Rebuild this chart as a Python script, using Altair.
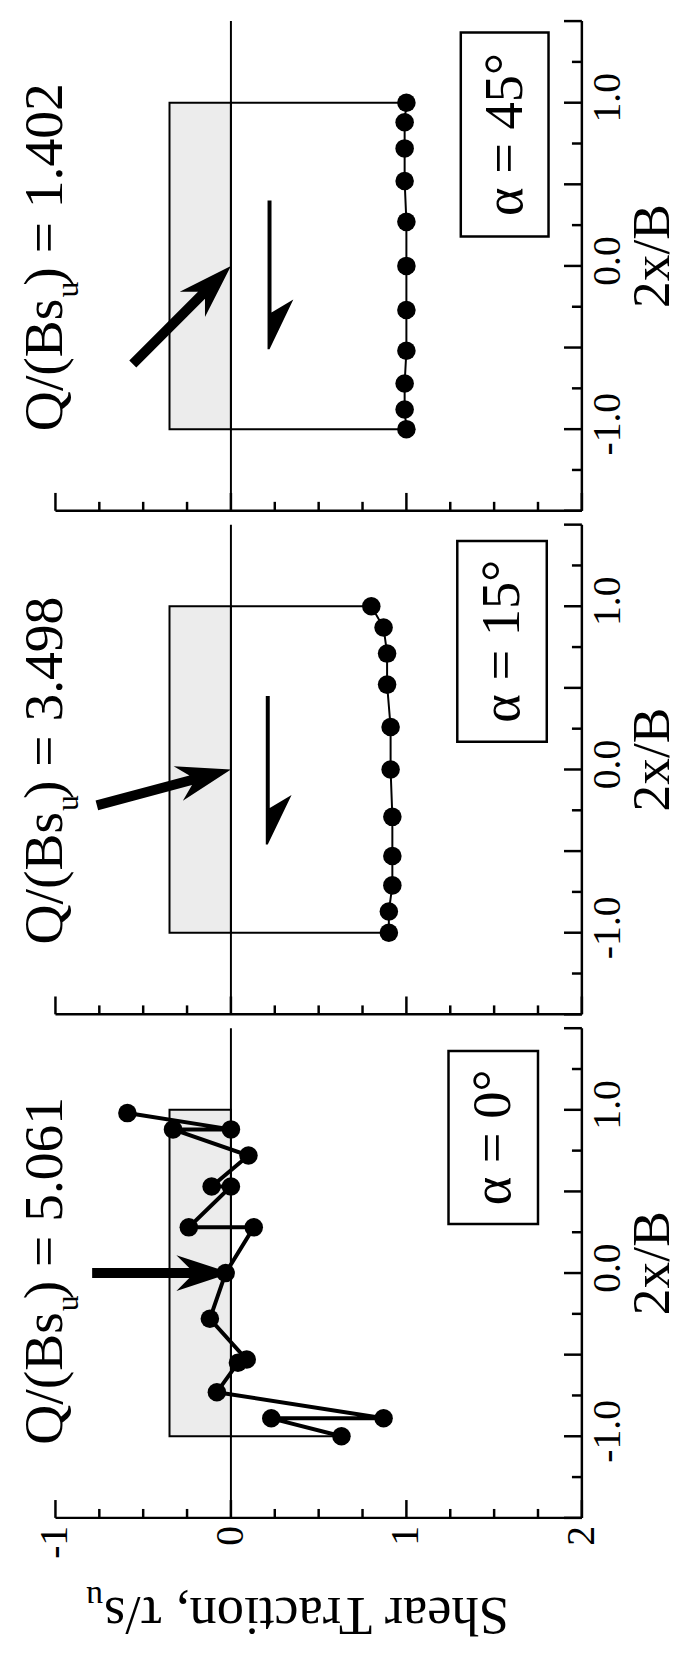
import altair as alt
import pandas as pd

FONT = "Liberation Serif"

# plot-area size of one panel (pixels) and the shared scales
W, H = 587, 494
TAU_DOMAIN = [-1.316, 2.0]
POS_DOMAIN = [-1.5, 1.5]

# ---- data -----------------------------------------------------------------
alphas = [45, 15, 0]
q_values = ["1.402", "3.498", "5.061"]

# shear traction tau/s_u along the footing (2x/B), one polyline per load angle
pos_45 = [1.0, 0.88, 0.72, 0.52, 0.27, 0.0, -0.27, -0.52, -0.72, -0.88, -1.0]
tau_45 = [1.0, 0.99, 0.99, 0.99, 1.0, 1.0, 1.0, 1.0, 0.99, 0.99, 1.0]

pos_15 = [1.0, 0.87, 0.71, 0.52, 0.26, 0.0, -0.29, -0.53, -0.71, -0.87, -1.0]
tau_15 = [0.80, 0.87, 0.89, 0.89, 0.91, 0.91, 0.92, 0.92, 0.92, 0.90, 0.90]

pos_0 = [0.98, 0.88, 0.88, 0.72, 0.53, 0.53, 0.28, 0.28, 0.0, -0.28,
         -0.53, -0.55, -0.73, -0.89, -0.89, -1.0]
tau_0 = [-0.59, 0.0, -0.33, 0.10, -0.11, 0.0, -0.24, 0.13, -0.03, -0.12,
         0.09, 0.04, -0.08, 0.87, 0.23, 0.63]

# footing outline: shaded block and the edges joined to the end tractions
footing_tau = [-0.35, 0.0]
footing_pos = [-1.0, 1.0]
edge_ends = {45: [1.0, 1.0], 15: [0.80, 0.91], 0: [0.0, 0.63]}  # (top, bottom)

# boxes holding the load-angle labels: (tau0, tau1, pos0, pos1)
alpha_boxes = {45: [1.31, 1.81, 0.18, 1.43],
               15: [1.29, 1.80, 0.17, 1.40],
               0: [1.24, 1.75, 0.30, 1.36]}

# anchor of the Q/(Bs_u) label (tau, 2x/B)
q_anchor = {45: [-0.96, -0.20], 15: [-0.96, -0.26], 0: [-0.96, -0.24]}

# direction-of-shear half arrows (tip position), absent for alpha = 0
shear_tip = {45: [0.22, -0.51], 15: [0.21, -0.46]}

line_width = {45: 2, 15: 2, 0: 4}

tau_major = [-1, 0, 1, 2]
tau_minor = [-0.75, -0.5, -0.25, 0.25, 0.5, 0.75, 1.25, 1.5, 1.75]
pos_major = [-1.5, -1.0, -0.5, 0.0, 0.5, 1.0, 1.5]
pos_minor = [-1.25, -0.75, -0.25, 0.25, 0.75, 1.25]
pos_labels = [-1.0, 0.0, 1.0]
pos_label_text = ["-1.0", "0.0", "1.0"]
tau_labels = [-1, 0, 1, 2]
tau_label_text = ["-1", "0", "1", "2"]

series = {45: (pos_45, tau_45), 15: (pos_15, tau_15), 0: (pos_0, tau_0)}

# load arrow (tip at origin, pointing up) and half arrow (tip at origin, pointing down)
LOAD_ARROW = "M0,0 L1.8,5.5 L0.5,4.2 L0.5,14 L-0.5,14 L-0.5,4.2 L-1.8,5.5 Z"
HALF_ARROW = "M0,0 L2.4,-5 L0.2,-3.7 L0.2,-15 L-0.2,-15 L-0.2,0 Z"


def panel(alpha, q_text, last):
    xs = alt.Scale(domain=TAU_DOMAIN, nice=False, zero=False)
    ys = alt.Scale(domain=POS_DOMAIN, nice=False, zero=False)

    def X(f):
        return alt.X(f, type="quantitative", scale=xs, axis=None)

    def Y(f):
        return alt.Y(f, type="quantitative", scale=ys, axis=None)

    foot = pd.DataFrame({"t0": [footing_tau[0]], "t1": [footing_tau[1]],
                         "p0": [footing_pos[0]], "p1": [footing_pos[1]]})
    footing = alt.Chart(foot).mark_rect(fill="#ececec", stroke="black", strokeWidth=2).encode(
        x=X("t0:Q"), x2="t1:Q", y=Y("p0:Q"), y2="p1:Q")

    ends = edge_ends[alpha]
    edges_df = pd.DataFrame({"t0": [footing_tau[1], footing_tau[1]], "t1": ends,
                             "p": [footing_pos[1], footing_pos[0]]})
    edges = alt.Chart(edges_df).mark_rule(color="black", strokeWidth=2).encode(
        x=X("t0:Q"), x2="t1:Q", y=Y("p:Q"))

    zero_df = pd.DataFrame({"t": [0.0], "p0": [POS_DOMAIN[0]], "p1": [POS_DOMAIN[1]]})
    zero = alt.Chart(zero_df).mark_rule(color="black", strokeWidth=2).encode(
        x=X("t:Q"), y=Y("p0:Q"), y2="p1:Q")

    # axis lines: tau axis along the bottom, 2x/B axis on the right
    base_df = pd.DataFrame({"t0": [tau_major[0]], "t1": [tau_major[-1]]})
    baseline = alt.Chart(base_df).mark_rule(color="black", strokeWidth=2.5).encode(
        x=X("t0:Q"), x2="t1:Q", y=alt.value(H))
    side_df = pd.DataFrame({"t": [tau_major[-1]], "p0": [pos_major[0]], "p1": [pos_major[-1]]})
    side = alt.Chart(side_df).mark_rule(color="black", strokeWidth=2.5).encode(
        x=X("t:Q"), y=Y("p0:Q"), y2="p1:Q")

    tmaj = alt.Chart(pd.DataFrame({"v": tau_major})).mark_rule(color="black", strokeWidth=2.5).encode(
        x=X("v:Q"), y=alt.value(H - 18), y2=alt.value(H))
    tmin = alt.Chart(pd.DataFrame({"v": tau_minor})).mark_rule(color="black", strokeWidth=2.5).encode(
        x=X("v:Q"), y=alt.value(H - 9), y2=alt.value(H))
    pmaj = alt.Chart(pd.DataFrame({"v": pos_major})).mark_rule(color="black", strokeWidth=2.5).encode(
        y=Y("v:Q"), x=alt.value(W - 18), x2=alt.value(W))
    pmin = alt.Chart(pd.DataFrame({"v": pos_minor})).mark_rule(color="black", strokeWidth=2.5).encode(
        y=Y("v:Q"), x=alt.value(W - 10), x2=alt.value(W))

    plab_df = pd.DataFrame({"v": pos_labels, "s": pos_label_text})
    plab = alt.Chart(plab_df).mark_text(font=FONT, fontSize=40, angle=270, align="center",
                                        baseline="top", dx=5, color="black").encode(
        y=Y("v:Q"), x=alt.value(W + 6), text="s:N")
    ptitle = alt.Chart(pd.DataFrame({"v": [0.0]})).mark_text(
        font=FONT, fontSize=54, angle=270, align="center", baseline="top", dx=10,
        color="black").encode(y=Y("v:Q"), x=alt.value(W + 45), text=alt.value("2x/B"))

    pos, tau = series[alpha]
    nodes_df = pd.DataFrame({"p": pos, "t": tau, "k": list(range(len(pos)))})
    line = alt.Chart(nodes_df).mark_line(color="black", strokeWidth=line_width[alpha]).encode(
        x=X("t:Q"), y=Y("p:Q"), order="k:Q")
    dots = alt.Chart(nodes_df).mark_circle(color="black", size=350, opacity=1).encode(
        x=X("t:Q"), y=Y("p:Q"))

    load_df = pd.DataFrame({"t": [0.0], "p": [0.0], "a": [90 - alpha]})
    load = alt.Chart(load_df).mark_point(shape=LOAD_ARROW, filled=True, color="black",
                                         size=400, opacity=1, strokeWidth=0).encode(
        x=X("t:Q"), y=Y("p:Q"), angle=alt.Angle("a:Q", scale=None))

    b = alpha_boxes[alpha]
    box_df = pd.DataFrame({"t0": [b[0]], "t1": [b[1]], "p0": [b[2]], "p1": [b[3]],
                           "tc": [(b[0] + b[1]) / 2], "pc": [(b[2] + b[3]) / 2],
                           "txt": [f"\u03b1 = {alpha}\u00b0"]})
    box = alt.Chart(box_df).mark_rect(fill="white", stroke="black", strokeWidth=2.5).encode(
        x=X("t0:Q"), x2="t1:Q", y=Y("p0:Q"), y2="p1:Q")
    box_text = alt.Chart(box_df).mark_text(font=FONT, fontSize=55, angle=270, align="center",
                                           baseline="middle", color="black").encode(
        x=X("tc:Q"), y=Y("pc:Q"), text="txt:N")

    qa = q_anchor[alpha]
    q_df = pd.DataFrame({"t": [qa[0]], "p": [qa[1]]})
    q_base = alt.Chart(q_df)
    q1 = q_base.mark_text(font=FONT, fontSize=56, angle=270, align="right",
                          baseline="alphabetic", color="black").encode(
        x=X("t:Q"), y=Y("p:Q"), text=alt.value("Q/(Bs"))
    q2 = q_base.mark_text(font=FONT, fontSize=32, angle=270, align="left", dx=1, dy=16,
                          baseline="alphabetic", color="black").encode(
        x=X("t:Q"), y=Y("p:Q"), text=alt.value("u"))
    q3 = q_base.mark_text(font=FONT, fontSize=56, angle=270, align="left", dx=13,
                          baseline="alphabetic", color="black").encode(
        x=X("t:Q"), y=Y("p:Q"), text=alt.value(f") = {q_text}"))

    layers = [footing, zero, edges, load, line, dots, box, box_text,
              baseline, side, tmaj, tmin, pmaj, pmin, plab, ptitle, q1, q2, q3]

    if alpha in shear_tip:
        st = shear_tip[alpha]
        sh_df = pd.DataFrame({"t": [st[0]], "p": [st[1]]})
        layers.append(alt.Chart(sh_df).mark_point(shape=HALF_ARROW, filled=True, color="black",
                                                  size=400, opacity=1, strokeWidth=0).encode(
            x=X("t:Q"), y=Y("p:Q")))

    if last:
        tlab_df = pd.DataFrame({"v": tau_labels, "s": tau_label_text})
        layers.append(alt.Chart(tlab_df).mark_text(
            font=FONT, fontSize=40, angle=270, align="right", baseline="middle",
            color="black").encode(x=X("v:Q"), y=alt.value(H + 8), text="s:N"))
        title_df = pd.DataFrame({"a": [0]})
        layers.append(alt.Chart(title_df).mark_text(
            font=FONT, fontSize=55, angle=180, align="right", baseline="alphabetic",
            color="black").encode(x=alt.value(105), y=alt.value(H + 81),
                                  text=alt.value("Shear Traction, \u03c4/s")))
        layers.append(alt.Chart(title_df).mark_text(
            font=FONT, fontSize=34, angle=180, align="left", baseline="alphabetic",
            dx=1, dy=11, color="black").encode(x=alt.value(105), y=alt.value(H + 81),
                                               text=alt.value("u")))

    return alt.layer(*layers).properties(width=W, height=H)


panels = [panel(a, q, i == len(alphas) - 1) for i, (a, q) in enumerate(zip(alphas, q_values))]

chart = alt.vconcat(*panels, spacing=14, bounds="flush").properties(
    padding={"left": 0, "top": 12, "right": 0, "bottom": 0}
).configure_view(stroke=None)

chart.save("out.html", embed_options={"renderer": "svg", "actions": False})
